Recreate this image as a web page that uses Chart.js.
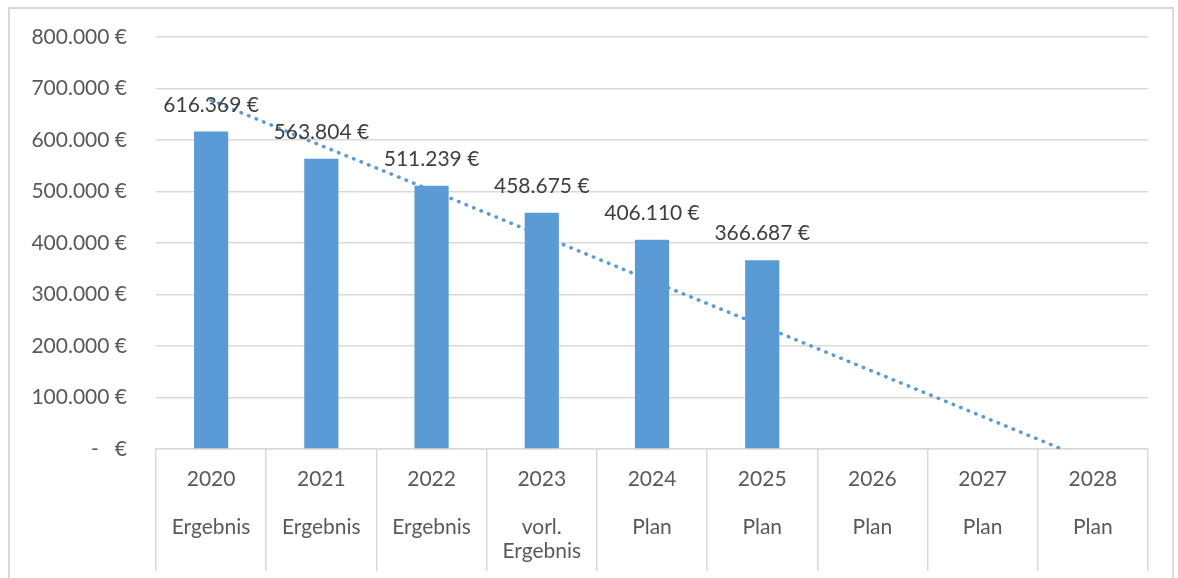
<!DOCTYPE html>
<html>
<head>
<meta charset="utf-8">
<script src="https://cdn.jsdelivr.net/npm/chart.js@4/dist/chart.umd.min.js"></script>
<style>
  body { margin: 0; background: #fff; }
  #frame { position: absolute; left: 8px; top: 7px; width: 1166px; height: 600px; border: 2px solid #d9d9d9; box-sizing: border-box; }
  #chart { position: absolute; left: 0; top: 0; }
</style>
</head>
<body>
<div id="frame"></div>
<canvas id="chart" width="1178" height="578"></canvas>
<script>
// data
var years = ['2020', '2021', '2022', '2023', '2024', '2025', '2026', '2027', '2028'];
var statusLines = [['Ergebnis'], ['Ergebnis'], ['Ergebnis'], ['vorl.', 'Ergebnis'], ['Plan'], ['Plan'], ['Plan'], ['Plan'], ['Plan']];
var barValues = [616369, 563804, 511239, 458675, 406110, 366687, null, null, null];
var trendValues = [677000, 589000, 502000, 414000, 326000, 239000, 151000, 63000, -25000];

var blue = '#5b9bd5';
var fontName = 'Lato';

function euro(v) {
  if (v === 0) return '-   €';
  var s = Math.round(v).toString();
  return s.replace(/\B(?=(\d{3})+(?!\d))/g, '.') + ' €';
}

// labels: year, empty line, status lines
var labels = [];
for (var i = 0; i < years.length; i++) {
  labels.push([years[i], ''].concat(statusLines[i]));
}

// draw value labels above the bars
var valueLabels = {
  id: 'valueLabels',
  afterDatasetsDraw: function (chart) {
    var ctx = chart.ctx;
    var meta = chart.getDatasetMeta(0);
    ctx.save();
    ctx.font = '21px ' + fontName;
    ctx.fillStyle = '#404040';
    ctx.textAlign = 'center';
    ctx.textBaseline = 'alphabetic';
    meta.data.forEach(function (bar, idx) {
      var v = barValues[idx];
      if (v == null) return;
      ctx.fillText(euro(v), bar.x, bar.y - 20);
    });
    ctx.restore();
  }
};

var ctx = document.getElementById('chart').getContext('2d');
new Chart(ctx, {
  data: {
    labels: labels,
    datasets: [{
      type: 'bar',
      data: barValues,
      backgroundColor: blue,
      borderWidth: 0,
      barPercentage: 0.31,
      categoryPercentage: 1,
      order: 1
    }, {
      type: 'line',
      data: trendValues,
      borderColor: blue,
      borderWidth: 3.5,
      borderDash: [0.5, 7.6],
      borderCapStyle: 'round',
      pointRadius: 0,
      tension: 0,
      fill: false,
      order: 2
    }]
  },
  options: {
    responsive: false,
    animation: false,
    devicePixelRatio: 1,
    layout: { padding: { top: 37, right: 30, left: 0, bottom: 0 } },
    plugins: {
      legend: { display: false },
      tooltip: { enabled: false }
    },
    scales: {
      x: {
        offset: true,
        grid: {
          display: true,
          drawOnChartArea: false,
          drawTicks: true,
          tickLength: 122,
          offset: true,
          color: '#d9d9d9',
          lineWidth: 1.5
        },
        border: { display: true, color: '#d9d9d9', width: 1.5 },
        ticks: {
          autoSkip: false,
          maxRotation: 0,
          padding: -104,
          color: '#595959',
          font: { family: fontName, size: 21, lineHeight: 1.15 }
        },
        afterFit: function (s) { s.height = 129; }
      },
      y: {
        min: 0,
        max: 800000,
        ticks: {
          stepSize: 100000,
          padding: 29,
          color: '#595959',
          font: { family: fontName, size: 21 },
          callback: function (v) { return euro(v); }
        },
        grid: { color: '#d9d9d9', lineWidth: 1.5, drawTicks: false },
        border: { display: false },
        afterFit: function (s) {
          s.width = 156;
          s.paddingTop = 0;
          s.paddingBottom = 0;
        }
      }
    }
  },
  plugins: [valueLabels]
});
</script>
</body>
</html>
